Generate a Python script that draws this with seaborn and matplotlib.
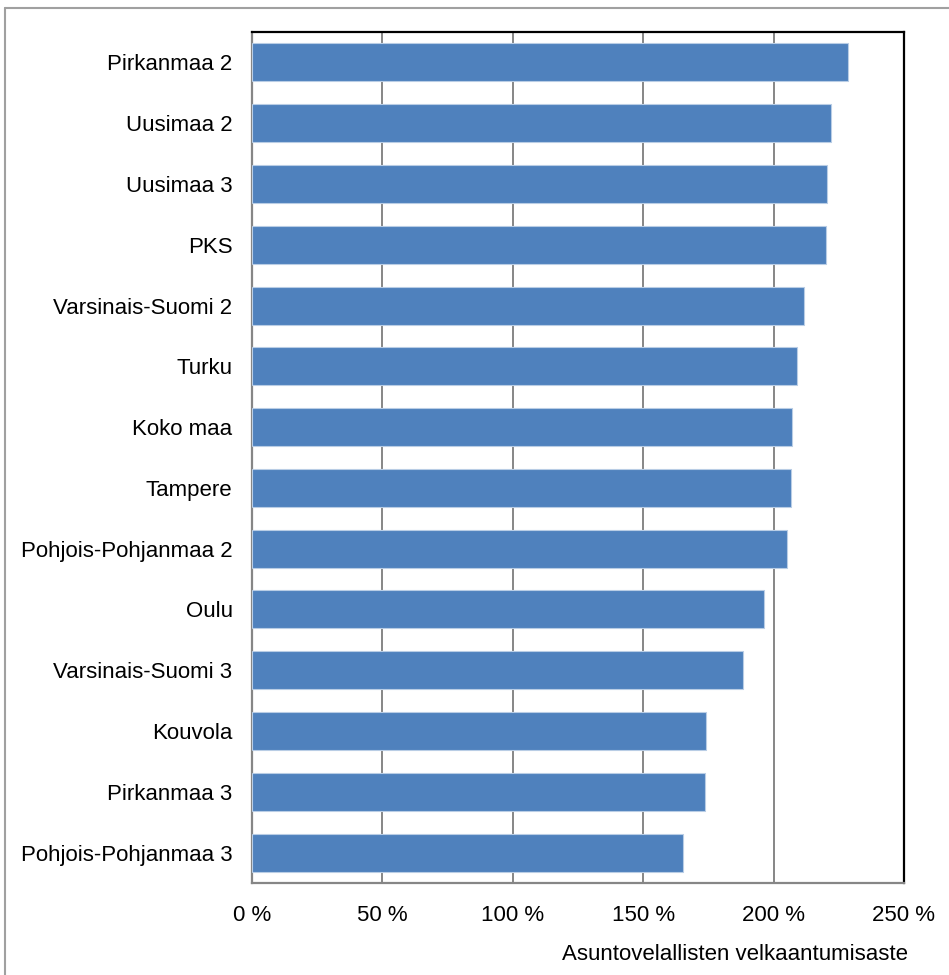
import matplotlib
matplotlib.use("Agg")
import matplotlib.pyplot as plt
import seaborn as sns
import pandas as pd
from matplotlib.lines import Line2D

regions = [
    "Pirkanmaa 2", "Uusimaa 2", "Uusimaa 3", "PKS", "Varsinais-Suomi 2",
    "Turku", "Koko maa", "Tampere", "Pohjois-Pohjanmaa 2", "Oulu",
    "Varsinais-Suomi 3", "Kouvola", "Pirkanmaa 3", "Pohjois-Pohjanmaa 3",
]
debt_ratio = [
    228.7, 222.2, 220.4, 220.0, 211.7,
    209.1, 207.1, 206.8, 205.0, 196.3,
    188.1, 174.2, 173.7, 165.1,
]
x_ticks = [0, 50, 100, 150, 200, 250]
x_tick_labels = ["0 %", "50 %", "100 %", "150 %", "200 %", "250 %"]
x_title = "Asuntovelallisten velkaantumisaste"

df = pd.DataFrame({"region": regions, "ratio": debt_ratio})

sns.set_theme(style="white")
plt.rcParams["font.family"] = ["Liberation Sans", "DejaVu Sans"]

FS = 16
W, H = 949, 975
fig = plt.figure(figsize=(W / 100, H / 100), dpi=100)
ax = fig.add_axes([252 / W, 1 - 883 / H, (904 - 252) / W, (883 - 32) / H])

sns.barplot(data=df, x="ratio", y="region", order=regions, orient="h",
            color="#4F81BD", saturation=1, width=0.625,
            edgecolor="#B9CDE5", linewidth=0.8, ax=ax, zorder=3)

ax.set_xlim(0, 250)
ax.set_ylim(len(regions) - 0.5, -0.5)
ax.set_xticks(x_ticks)
ax.set_xticklabels(x_tick_labels, fontsize=FS, color="black")
ax.tick_params(axis="y", labelsize=FS, labelcolor="black", length=0, pad=14)
ax.tick_params(axis="x", length=5, width=1.3, color="#868686", pad=10.5, direction="out")
ax.xaxis.grid(True, color="#868686", linewidth=1.4, zorder=0)
ax.set_axisbelow(True)
ax.set_xlabel("")
ax.set_ylabel("")

for side in ("left", "bottom"):
    ax.spines[side].set_color("#868686")
    ax.spines[side].set_linewidth(1.6)
for side in ("top", "right"):
    ax.spines[side].set_color("black")
    ax.spines[side].set_linewidth(1.6)
    ax.spines[side].set_visible(True)

fig.text(908 / W, 1 - 954 / H, x_title, ha="right", va="center",
         fontsize=FS, color="black")

# outer chart frame
fig.add_artist(Line2D([4.5 / W, 1], [1 - 8 / H, 1 - 8 / H], transform=fig.transFigure,
                      color="#A0A0A0", linewidth=1.5))
fig.add_artist(Line2D([4.5 / W, 4.5 / W], [0, 1 - 8 / H], transform=fig.transFigure,
                      color="#A0A0A0", linewidth=1.5))

fig.savefig("out.png", dpi=100, facecolor="white")
